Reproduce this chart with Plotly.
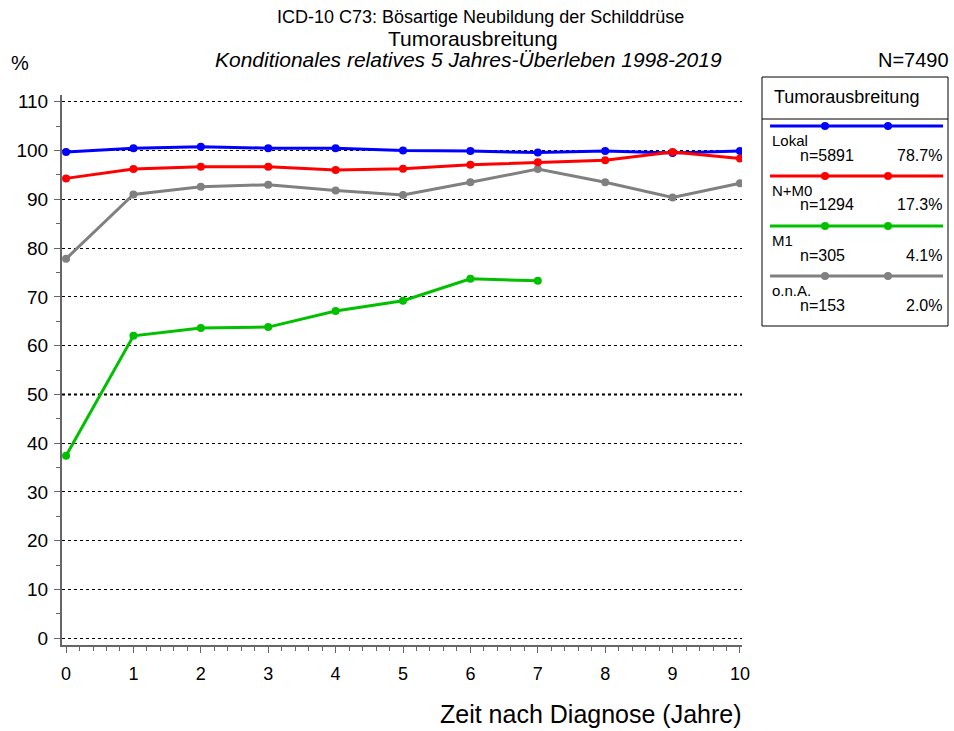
import plotly.graph_objects as go

# Data
years = [0, 1, 2, 3, 4, 5, 6, 7, 8, 9, 10]
lokal = [99.7, 100.5, 100.8, 100.5, 100.5, 100.0, 99.9, 99.6, 99.9, 99.5, 99.9]
n_m0 = [94.3, 96.2, 96.7, 96.7, 96.0, 96.3, 97.1, 97.6, 98.0, 99.7, 98.4]
m1_years = [0, 1, 2, 3, 4, 5, 6, 7]
m1 = [37.4, 62.0, 63.6, 63.8, 67.1, 69.2, 73.7, 73.3]
ona = [77.8, 91.0, 92.6, 93.0, 91.8, 90.9, 93.5, 96.2, 93.5, 90.4, 93.3]

groups = ["Lokal", "N+M0", "M1", "o.n.A."]
counts = ["n=5891", "n=1294", "n=305", "n=153"]
shares = ["78.7%", "17.3%", "4.1%", "2.0%"]

BLUE = "#0000ff"
RED = "#ff0000"
GREEN = "#00c000"
GRAY = "#808080"
AXIS = "#666666"
FONT = "Liberation Sans, Arial, sans-serif"

W, H = 954, 731
L, R, T, B = 62, 742, 95, 645


def px(x):
    return (x - L) / (R - L)


def py(y):
    return (B - y) / (B - T)


fig = go.Figure()


def add_series(x, y, color, name):
    fig.add_trace(go.Scatter(
        x=x, y=y, mode="lines+markers", name=name,
        line=dict(color=color, width=3),
        marker=dict(color=color, size=8),
        showlegend=False,
    ))


add_series(years, ona, GRAY, "o.n.A.")
add_series(m1_years, m1, GREEN, "M1")
add_series(years, lokal, BLUE, "Lokal")
add_series(years, n_m0, RED, "N+M0")

shapes = []
annotations = []

# thicker dotted line at 50 %
shapes.append(dict(type="line", xref="paper", x0=0, x1=1, yref="y", y0=50, y1=50,
                   line=dict(color="black", width=2, dash="dot"), layer="below"))

# titles
annotations += [
    dict(text="ICD-10 C73: Bösartige Neubildung der Schilddrüse", x=px(480), y=py(17),
         font=dict(size=18)),
    dict(text="Tumorausbreitung", x=px(473), y=py(38), font=dict(size=21)),
    dict(text="<i>Konditionales relatives 5 Jahres-Überleben 1998-2019</i>", x=px(468), y=py(60),
         font=dict(size=21)),
    dict(text="%", x=px(20), y=py(63), font=dict(size=20)),
    dict(text="N=7490", x=px(951), y=py(60), xanchor="right", font=dict(size=20)),
    dict(text="Zeit nach Diagnose (Jahre)", x=px(744), y=py(714), xanchor="right",
         font=dict(size=25)),
]

# legend box
bx0, bx1, by0, by1 = 762, 948, 77, 326
shapes.append(dict(type="rect", xref="paper", yref="paper", x0=px(bx0), x1=px(bx1),
                   y0=py(by0), y1=py(by1), line=dict(color="black", width=1)))
shapes.append(dict(type="line", xref="paper", yref="paper", x0=px(bx0), x1=px(bx1),
                   y0=py(119), y1=py(119), line=dict(color="black", width=1)))
annotations.append(dict(text="Tumorausbreitung", x=px(772), y=py(97), xanchor="left",
                        font=dict(size=18)))

colors = [BLUE, RED, GREEN, GRAY]
for i, (g, c, s, col) in enumerate(zip(groups, counts, shares, colors)):
    ly = 126 + 50 * i
    shapes.append(dict(type="line", xref="paper", yref="paper", x0=px(770), x1=px(943),
                       y0=py(ly), y1=py(ly), line=dict(color=col, width=3)))
    for mx in (825, 888):
        shapes.append(dict(type="circle", xref="paper", yref="paper",
                           xsizemode="pixel", ysizemode="pixel",
                           xanchor=px(mx), yanchor=py(ly), x0=-4, x1=4, y0=-4, y1=4,
                           fillcolor=col, line=dict(color=col, width=0)))
    annotations += [
        dict(text=g, x=px(770), y=py(ly + 14), xanchor="left", font=dict(size=15)),
        dict(text=c, x=px(798), y=py(ly + 29), xanchor="left", font=dict(size=16)),
        dict(text=s, x=px(944), y=py(ly + 29), xanchor="right", font=dict(size=16)),
    ]

for a in annotations:
    a.setdefault("xref", "paper")
    a.setdefault("yref", "paper")
    a.setdefault("showarrow", False)
    a.setdefault("xanchor", "center")
    a.setdefault("yanchor", "middle")

fig.update_layout(
    width=W, height=H,
    margin=dict(l=L, r=W - R, t=T, b=H - B, pad=0),
    paper_bgcolor="white", plot_bgcolor="white",
    font=dict(family=FONT, color="black"),
    shapes=shapes, annotations=annotations,
    xaxis=dict(
        range=[-0.06, 10.03], tickmode="array", tickvals=years,
        showline=True, linecolor=AXIS, linewidth=2, showgrid=False, zeroline=False,
        ticks="outside", ticklen=6, tickcolor=AXIS, tickwidth=1,
        tickfont=dict(size=18), ticklabelstandoff=5,
        minor=dict(dtick=0.2, tick0=0, ticks="outside", ticklen=4, tickcolor=AXIS, showgrid=False),
    ),
    yaxis=dict(
        range=[-1.4, 111.4], tickmode="array", tickvals=list(range(0, 111, 10)),
        showline=True, linecolor=AXIS, linewidth=2, zeroline=False,
        showgrid=True, gridcolor="black", griddash="dot", gridwidth=1,
        ticks="outside", ticklen=6, tickcolor=AXIS, tickwidth=1,
        tickfont=dict(size=19), ticklabelstandoff=2,
        minor=dict(dtick=5, tick0=0, ticks="outside", ticklen=4, tickcolor=AXIS, showgrid=False),
    ),
)

fig.write_html("out.html", config={"displayModeBar": False},
               post_script="document.body.style.margin='0';document.body.style.padding='0';")
